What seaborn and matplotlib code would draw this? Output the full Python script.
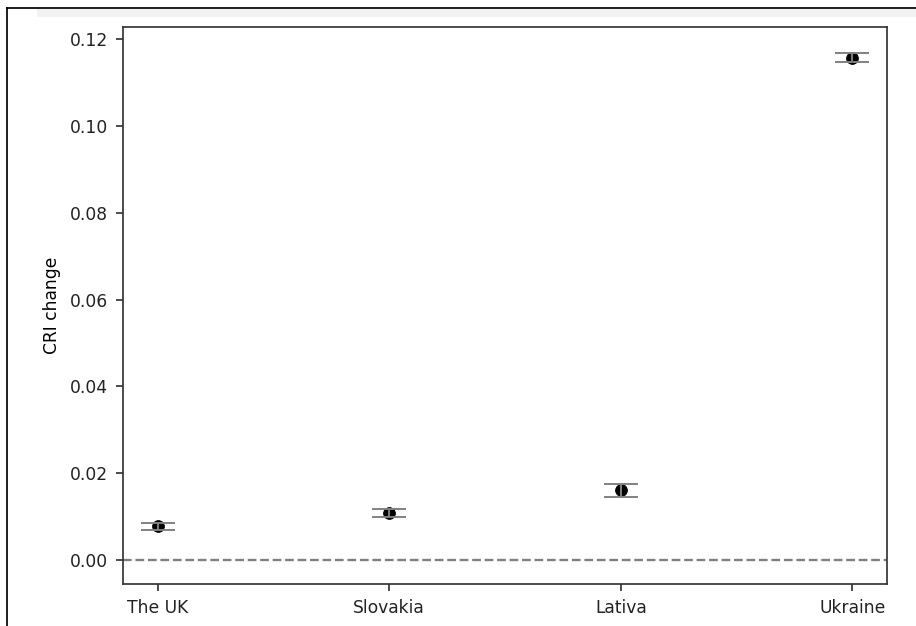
import seaborn as sns
import matplotlib.pyplot as plt
import pandas as pd
from matplotlib.lines import Line2D
from matplotlib.patches import Rectangle

# values
countries = ['The UK', 'Slovakia', 'Lativa', 'Ukraine']
cri_change = [0.0078, 0.0109, 0.0161, 0.1157]
cri_err = [0.0008, 0.0009, 0.0015, 0.0010]

df = pd.DataFrame({'country': countries, 'change': cri_change, 'err': cri_err})

plt.rcParams['font.size'] = 8.0
plt.rcParams['axes.edgecolor'] = '#333333'

dpi = 154
fig = plt.figure(figsize=(917 / dpi, 626 / dpi), dpi=dpi)
ax = fig.add_axes([123 / 917, 1 - 584 / 626, 764 / 917, 557 / 626])

# screenshot frame
fig.add_artist(Rectangle((37 / 917, 1 - 17 / 626), 1, 8 / 626,
                         transform=fig.transFigure, color='#f2f2f2', lw=0))
fig.add_artist(Line2D([7 / 917, 1], [1 - 8 / 626, 1 - 8 / 626],
                      transform=fig.transFigure, color='black', lw=0.8))
fig.add_artist(Line2D([7 / 917, 7 / 917], [0, 1 - 8 / 626],
                      transform=fig.transFigure, color='black', lw=0.8))

sns.scatterplot(data=df, x='country', y='change', color='black',
                s=30, edgecolor='black', ax=ax, zorder=2)
ax.errorbar(range(len(df)), df['change'], yerr=df['err'], fmt='none',
            ecolor='gray', capsize=8, elinewidth=0.9, capthick=0.9, zorder=3)
ax.axhline(0, color='gray', linestyle='--', lw=1.1)

ax.set_xlim(-0.15, 3.15)
ax.set_ylim(-0.0055, 0.1228)
ax.set_xlabel('')
ax.set_ylabel('CRI change')
ax.tick_params(colors='#333333', labelcolor='#222222')

fig.savefig('out.png', dpi=dpi)
